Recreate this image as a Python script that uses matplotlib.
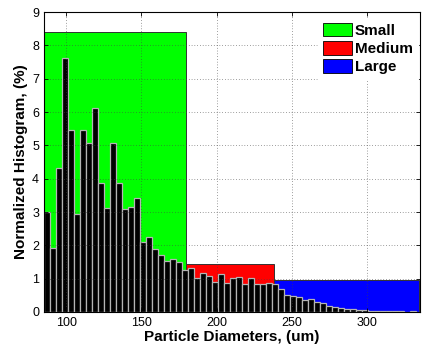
import matplotlib
matplotlib.use("Agg")
import matplotlib.pyplot as plt
from matplotlib.patches import Patch
import numpy as np

plt.rcParams['font.family'] = ['Liberation Sans', 'DejaVu Sans']

# Histogram bins (left edges) and normalized heights (%)
bin_start = 85
bin_width = 4
heights = [3.00, 1.92, 4.33, 7.62, 5.46, 2.93, 5.46, 5.06, 6.12, 3.86,
           3.13, 5.08, 3.86, 3.08, 3.16, 3.43, 2.09, 2.26, 1.90, 1.72,
           1.53, 1.58, 1.50, 1.26, 1.31, 1.01, 1.16, 1.09, 0.91, 1.13,
           0.86, 1.01, 1.05, 0.85, 1.01, 0.84, 0.83, 0.86, 0.84, 0.68,
           0.50, 0.49, 0.46, 0.36, 0.38, 0.31, 0.26, 0.18, 0.14, 0.11,
           0.08, 0.08, 0.06, 0.06, 0.03, 0.03, 0.02, 0.02, 0.02, 0.02,
           0.01, 0.02, 0.01]

# Size classes
class_names = ['Small', 'Medium', 'Large']
class_edges = [85, 180, 238, 335]
class_heights = [8.4, 1.45, 0.95]
class_colors = ['#00ff00', '#ff0000', '#0000ff']

x_ticks = [100, 150, 200, 250, 300]
y_ticks = list(range(0, 10))

fig = plt.figure(figsize=(4.22, 3.45), dpi=100)
ax = fig.add_axes([0.104, 0.0957, 0.891, 0.869])

# Class background rectangles
ax.bar(class_edges[:-1], class_heights, width=np.diff(class_edges), align='edge',
       color=class_colors, edgecolor='#333333', linewidth=0.7, zorder=1)

# Histogram bars
lefts = bin_start + bin_width * np.arange(len(heights))
ax.bar(lefts, heights, width=bin_width, align='edge', color='black',
       edgecolor='#b4b4b4', linewidth=0.9, zorder=2)

ax.set_xlim(85, 335.5)
ax.set_ylim(0, 9)
ax.set_xticks(x_ticks)
ax.set_yticks(y_ticks)
ax.tick_params(direction='in', top=True, right=True, labelsize=9, length=3, width=0.6)
ax.grid(True, linestyle=(0, (1, 3)), color='#444444', linewidth=0.5)
ax.set_axisbelow(False)
for s in ax.spines.values():
    s.set_linewidth(0.8)
    s.set_zorder(5)

ax.set_xlabel('Particle Diameters, (um)', fontsize=11, fontweight='bold', labelpad=1)
ax.set_ylabel('Normalized Histogram, (%)', fontsize=11, fontweight='bold', labelpad=3)

handles = [Patch(facecolor=c, edgecolor='black', linewidth=0.6) for c in class_colors]
leg = ax.legend(handles, class_names, loc='upper right', bbox_to_anchor=(0.998, 0.985),
                prop={'weight': 'bold', 'size': 11}, frameon=True, fancybox=False,
                edgecolor='white', facecolor='white', framealpha=1.0,
                handlelength=1.9, handleheight=1.0, handletextpad=0.2,
                labelspacing=0.2, borderpad=0.3, borderaxespad=0.1)
leg.set_zorder(10)

fig.savefig('out.png', dpi=100)
